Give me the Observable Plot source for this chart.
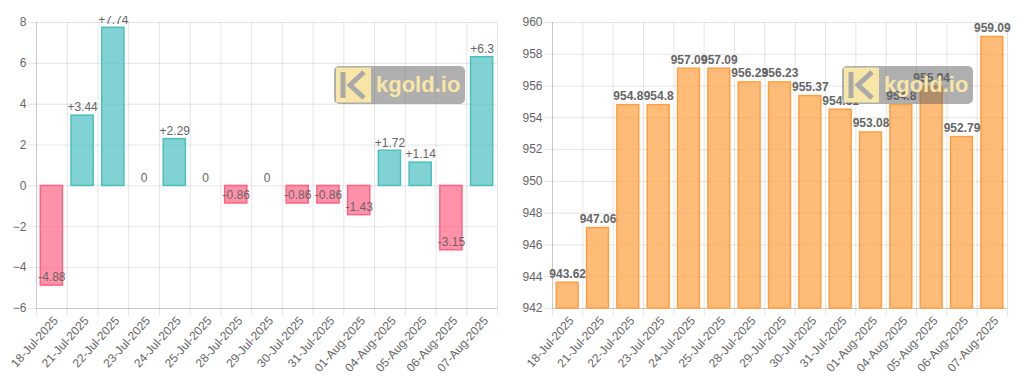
<!DOCTYPE html>
<html>
<head>
<meta charset="utf-8">
<script src="https://cdn.jsdelivr.net/npm/d3@7"></script>
<script src="https://cdn.jsdelivr.net/npm/@observablehq/plot@0.6"></script>
<style>
  body { margin: 0; background: #fff; font-family: "Liberation Sans", Arial, Helvetica, sans-serif; }
  #wrap { position: relative; width: 1024px; height: 377px; overflow: hidden; }
  .panel { position: absolute; top: 16px; width: 512px; height: 361px; overflow: hidden; }
  .panel svg.plot { position: absolute; left: 0; top: 0; z-index: 1; }
  .wm { position: absolute; top: 50px; width: 131px; height: 38px; z-index: 0; }
</style>
</head>
<body>
<div id="wrap">
  <div class="panel" id="left" style="left:0px;"></div>
  <div class="panel" id="right" style="left:512px;"></div>
</div>
<script>
const dates = ["18-Jul-2025", "21-Jul-2025", "22-Jul-2025", "23-Jul-2025", "24-Jul-2025", "25-Jul-2025", "28-Jul-2025", "29-Jul-2025", "30-Jul-2025", "31-Jul-2025", "01-Aug-2025", "04-Aug-2025", "05-Aug-2025", "06-Aug-2025", "07-Aug-2025"];
const changes = [-4.88, 3.44, 7.74, 0, 2.29, 0, -0.86, 0, -0.86, -0.86, -1.43, 1.72, 1.14, -3.15, 6.3];
const prices = [943.62, 947.06, 954.8, 954.8, 957.09, 957.09, 956.23, 956.23, 955.37, 954.51, 953.08, 954.8, 955.94, 952.79, 959.09];
const changeTicks = [-6, -4, -2, 0, 2, 4, 6, 8];
const priceTicks = [942, 944, 946, 948, 950, 952, 954, 956, 958, 960];

const FONT = "Liberation Sans, Arial, Helvetica, sans-serif";
const TEAL_FILL = "rgba(75,192,192,0.7)", TEAL = "rgb(75,192,192)";
const PINK_FILL = "rgba(255,99,132,0.7)", PINK = "rgb(255,99,132)";
const ORANGE_FILL = "rgba(255,159,64,0.7)", ORANGE = "rgb(255,159,64)";
const HALF = 0.36;

const idx = d3.range(dates.length);
const bounds = d3.range(-0.5, dates.length, 1);

function baseMarks(ticks, yMin) {
  return [
    Plot.ruleY(ticks, {stroke: "#000", strokeOpacity: 0.1, insetLeft: -8}),
    Plot.ruleX(bounds, {stroke: "#000", strokeOpacity: 0.1, insetBottom: -8}),
    Plot.ruleX([-0.5], {stroke: "#000", strokeOpacity: 0.12}),
    Plot.ruleY([yMin], {stroke: "#000", strokeOpacity: 0.12}),
    Plot.axisY({ticks, tickSize: 0, tickPadding: 10, label: null, fontSize: 12}),
    Plot.axisX({ticks: idx, tickFormat: i => dates[i], tickSize: 0, tickPadding: 10, tickRotate: -48, dx: 4, label: null, fontSize: 12})
  ];
}

function watermark(left) {
  const d = document.createElement("div");
  d.className = "wm";
  d.style.left = left + "px";
  d.innerHTML = `<svg width="131" height="38" xmlns="http://www.w3.org/2000/svg">
    <rect x="0" y="0" width="131" height="38" rx="5" fill="rgba(95,95,95,0.5)"/>
    <rect x="2" y="1.5" width="35" height="35" fill="#f8e6a6"/>
    <path d="M9 6 V32" stroke="#a9a9a9" stroke-width="5"/>
    <path d="M30 6 L16 19 L30 32" stroke="#a9a9a9" stroke-width="5" fill="none"/>
    <text x="42" y="26" font-family="${FONT}" font-weight="bold" font-size="22" fill="#f8e6a6">kgold.io</text>
  </svg>`;
  return d;
}

// Left chart: daily change
const cdata = idx.map(i => ({i, v: changes[i]}));
const left = Plot.plot({
  width: 512, height: 361,
  marginTop: 6, marginBottom: 69, marginLeft: 36, marginRight: 15,
  style: {background: "transparent", color: "#666", fontFamily: FONT, fontSize: "12px"},
  x: {type: "linear", domain: [-0.5, dates.length - 0.5], axis: null},
  y: {domain: [-6, 8], axis: null},
  marks: [
    ...baseMarks(changeTicks, -6),
    Plot.rectY(cdata.filter(d => d.v > 0), {x1: d => d.i - HALF, x2: d => d.i + HALF, y1: 0, y2: "v", fill: TEAL_FILL, stroke: TEAL, strokeWidth: 1.5}),
    Plot.rectY(cdata.filter(d => d.v < 0), {x1: d => d.i - HALF, x2: d => d.i + HALF, y1: 0, y2: "v", fill: PINK_FILL, stroke: PINK, strokeWidth: 1.5}),
    Plot.text(cdata, {x: "i", y: "v", dy: -8, text: d => d.v > 0 ? "+" + d.v : String(d.v), fill: "#666", fontSize: 12})
  ]
});
const lp = document.getElementById("left");
lp.appendChild(watermark(334));
lp.appendChild(left);

// Right chart: price
const pdata = idx.map(i => ({i, v: prices[i]}));
const right = Plot.plot({
  width: 512, height: 361,
  marginTop: 6, marginBottom: 69, marginLeft: 40, marginRight: 17,
  style: {background: "transparent", color: "#666", fontFamily: FONT, fontSize: "12px"},
  x: {type: "linear", domain: [-0.5, dates.length - 0.5], axis: null},
  y: {domain: [942, 960], axis: null},
  marks: [
    ...baseMarks(priceTicks, 942),
    Plot.rectY(pdata, {x1: d => d.i - HALF, x2: d => d.i + HALF, y1: 942, y2: "v", fill: ORANGE_FILL, stroke: ORANGE, strokeWidth: 1.5}),
    Plot.text(pdata, {x: "i", y: "v", dy: -9, text: d => String(d.v), fill: "#666", fontSize: 12, fontWeight: "bold"})
  ]
});
const rp = document.getElementById("right");
rp.appendChild(watermark(330));
rp.appendChild(right);
</script>
</body>
</html>
